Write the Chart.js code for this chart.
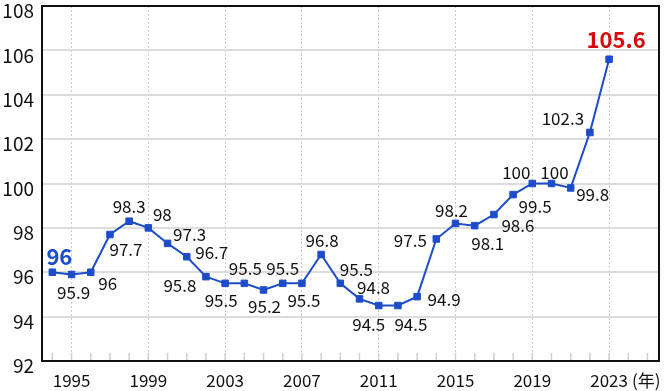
<!DOCTYPE html>
<html>
<head>
<meta charset="utf-8">
<script src="https://cdn.jsdelivr.net/npm/chart.js@4.4.1/dist/chart.umd.min.js"></script>
<style>
  html, body { margin: 0; padding: 0; background: #fff; }
  #wrap { width: 670px; height: 391px; position: relative; }
</style>
</head>
<body>
<div id="wrap"><canvas id="priceChart"></canvas></div>
<script>
// data
const years = [1994, 1995, 1996, 1997, 1998, 1999, 2000, 2001, 2002, 2003,
  2004, 2005, 2006, 2007, 2008, 2009, 2010, 2011, 2012, 2013,
  2014, 2015, 2016, 2017, 2018, 2019, 2020, 2021, 2022, 2023];
const values = [96, 95.9, 96, 97.7, 98.3, 98, 97.3, 96.7, 95.8, 95.5,
  95.5, 95.2, 95.5, 95.5, 96.8, 95.5, 94.8, 94.5, 94.5, 94.9,
  97.5, 98.2, 98.1, 98.6, 99.5, 100, 100, 99.8, 102.3, 105.6];
const yTicks = [92, 94, 96, 98, 100, 102, 104, 106, 108];
const xLabelYears = [1995, 1999, 2003, 2007, 2011, 2015, 2019, 2023];
const xTickYears = [];
for (let y = 1994; y <= 2025; y++) xTickYears.push(y);
const unitLabel = "(年)";

const FONT = "'Noto Sans CJK JP', 'Noto Sans', sans-serif";
const BLUE = "#1c4cc9";

// where each value label sits relative to its point (dx, dy in px)
const labelOffsets = [
  [7, -16], [2, 18], [17, 11], [16, 15], [0, -15], [14, -13], [22, -9], [25, -4],
  [-26, 9], [-4, 17], [1, -15], [1, 17], [0, -15], [2, 17], [1, -14], [16, -14],
  [14, -11], [-10, 19], [13, 19], [27, 3], [-26, 2], [-4, -13], [13, 18], [24, 11],
  [22, 12], [-16, -11], [3, -11], [22, 7], [-27, -14], [7, -20]
];

// frame round the plot + short year ticks inside the bottom edge
const framePlugin = {
  id: "frame",
  beforeDatasetsDraw(chart) {
    const { ctx, chartArea: a, scales } = chart;
    ctx.save();
    ctx.strokeStyle = "#cfcfcf";
    ctx.lineWidth = 1.5;
    xTickYears.forEach(yr => {
      const x = scales.x.getPixelForValue(yr);
      ctx.beginPath();
      ctx.moveTo(x, a.bottom);
      ctx.lineTo(x, a.bottom - 8);
      ctx.stroke();
    });
    ctx.strokeStyle = "#111";
    ctx.lineWidth = 2;
    ctx.strokeRect(a.left, a.top, a.right - a.left, a.bottom - a.top);
    ctx.restore();
  }
};

const valueLabelPlugin = {
  id: "valueLabels",
  afterDatasetsDraw(chart) {
    const { ctx, chartArea: a } = chart;
    const meta = chart.getDatasetMeta(0);
    ctx.save();
    ctx.textAlign = "center";
    ctx.textBaseline = "middle";
    meta.data.forEach((pt, i) => {
      const [dx, dy] = labelOffsets[i];
      if (i === 0) {
        ctx.font = "bold 22px " + FONT;
        ctx.fillStyle = BLUE;
      } else if (i === values.length - 1) {
        ctx.font = "bold 22px " + FONT;
        ctx.fillStyle = "#d60a0a";
      } else {
        ctx.font = "17px " + FONT;
        ctx.fillStyle = "#111";
      }
      ctx.fillText(String(values[i]), pt.x + dx, pt.y + dy);
    });
    // unit after the last year label
    ctx.font = "17px " + FONT;
    ctx.fillStyle = "#111";
    ctx.textAlign = "left";
    ctx.fillText(unitLabel, a.right - 27, a.bottom + 20);
    ctx.restore();
  }
};

new Chart(document.getElementById("priceChart"), {
  type: "line",
  data: {
    datasets: [{
      data: years.map((yr, i) => ({ x: yr, y: values[i] })),
      borderColor: BLUE,
      backgroundColor: BLUE,
      borderWidth: 2,
      pointStyle: "rect",
      pointRadius: 4.6,
      pointBorderWidth: 1,
      pointHoverRadius: 4.6,
      tension: 0,
      clip: false
    }]
  },
  options: {
    responsive: true,
    maintainAspectRatio: false,
    animation: false,
    layout: { padding: { top: 6, right: 11, left: 0, bottom: 0 } },
    plugins: { legend: { display: false }, tooltip: { enabled: false } },
    scales: {
      x: {
        type: "linear",
        min: 1993.46,
        max: 2025.6,
        afterBuildTicks: scale => {
          scale.ticks = xTickYears.map(v => ({ value: v }));
        },
        afterFit: scale => {
          scale.height = 30;
          scale.paddingLeft = 0;
          scale.paddingRight = 0;
        },
        grid: {
          color: c => xLabelYears.includes(c.tick && c.tick.value) ? "#cccccc" : "rgba(0,0,0,0)",
          lineWidth: 1,
          drawTicks: false
        },
        border: { display: false, dash: [2, 2] },
        ticks: {
          autoSkip: false,
          maxRotation: 0,
          padding: 9,
          color: "#111",
          font: { family: FONT, size: 17 },
          callback: v => xLabelYears.includes(v) ? String(v) : ""
        }
      },
      y: {
        min: 92,
        max: 108,
        afterBuildTicks: scale => {
          scale.ticks = yTicks.map(v => ({ value: v }));
        },
        afterFit: scale => {
          scale.width = 42;
          scale.paddingTop = 0;
          scale.paddingBottom = 0;
        },
        grid: { color: "#dcdcdc", lineWidth: 2, drawTicks: false },
        border: { display: false },
        ticks: {
          padding: 8,
          labelOffset: 5,
          color: "#111",
          font: { family: FONT, size: 19 }
        }
      }
    }
  },
  plugins: [framePlugin, valueLabelPlugin]
});
</script>
</body>
</html>
